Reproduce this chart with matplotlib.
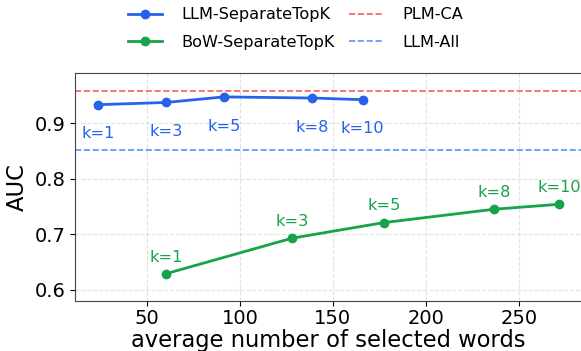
import matplotlib.pyplot as plt

k_values = [1, 3, 5, 8, 10]
llm_words = [23.8, 60.2, 91.4, 139.0, 166.0]
llm_auc = [0.933, 0.937, 0.947, 0.945, 0.942]
bow_words = [60.2, 128.1, 177.4, 236.6, 271.7]
bow_auc = [0.629, 0.693, 0.721, 0.745, 0.754]
plm_ca = 0.958
llm_all = 0.851

blue = '#2563eb'
green = '#16a34a'

fig = plt.figure(figsize=(5.81, 3.51), dpi=100)
ax = fig.add_axes([75 / 581, 50 / 351, 507.4 / 581, 228 / 351])

ax.plot(llm_words, llm_auc, marker='o', color=blue, lw=2, ms=6, label='LLM-SeparateTopK')
ax.plot(bow_words, bow_auc, marker='o', color=green, lw=2, ms=6, label='BoW-SeparateTopK')
ax.axhline(plm_ca, color='#ef4444', ls='--', lw=1.2, alpha=0.85, label='PLM-CA')
ax.axhline(llm_all, color='#3b82f6', ls='--', lw=1.2, alpha=0.85, label='LLM-All')

# k labels: below the LLM points, above the BoW points
for k, x, y in zip(k_values, llm_words, llm_auc):
    ax.annotate(f'k={k}', (x, y), xytext=(0, -21), textcoords='offset points',
                ha='center', va='center', color=blue, fontsize=11.6)
for k, x, y in zip(k_values, bow_words, bow_auc):
    ax.annotate(f'k={k}', (x, y), xytext=(0, 12), textcoords='offset points',
                ha='center', va='center', color=green, fontsize=11.6)

ax.set_xlim(11.4, 284.1)
ax.set_ylim(0.58, 0.99)
ax.set_xticks([50, 100, 150, 200, 250])
ax.set_yticks([0.6, 0.7, 0.8, 0.9])
ax.tick_params(labelsize=14)
ax.tick_params(axis='x', pad=2)
ax.set_xlabel('average number of selected words', fontsize=16.3, labelpad=1)
ax.set_ylabel('AUC', fontsize=16.3)
ax.grid(True, ls='--', alpha=0.35)
for s in ax.spines.values():
    s.set_color('#444444')

fig.legend(loc='upper center', bbox_to_anchor=(0.509, 1.02), ncol=2, frameon=False,
           fontsize=11.6, handlelength=2.1, columnspacing=0.9, handletextpad=1.2,
           labelspacing=0.75)

plt.savefig('out.png', dpi=100)
